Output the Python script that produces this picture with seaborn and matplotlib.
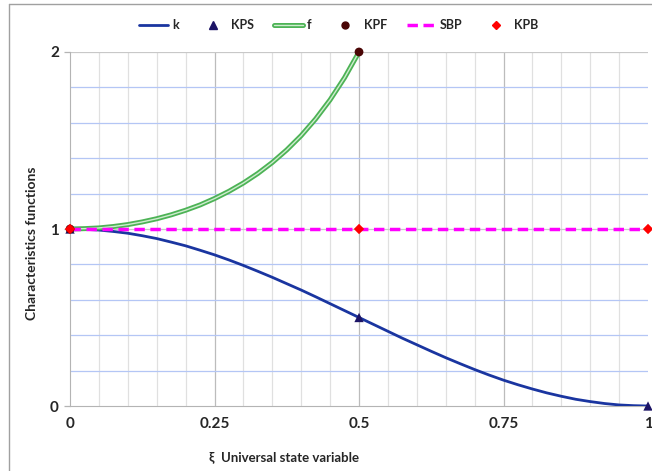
import numpy as np
import pandas as pd
import matplotlib
matplotlib.use("Agg")
import matplotlib.pyplot as plt
import matplotlib.patheffects as pe
from matplotlib.lines import Line2D
import seaborn as sns

# values
xi = [0, 0.025, 0.05, 0.075, 0.1, 0.125, 0.15, 0.175, 0.2, 0.225, 0.25,
      0.275, 0.3, 0.325, 0.35, 0.375, 0.4, 0.425, 0.45, 0.475, 0.5,
      0.525, 0.55, 0.575, 0.6, 0.625, 0.65, 0.675, 0.7, 0.725, 0.75,
      0.775, 0.8, 0.825, 0.85, 0.875, 0.9, 0.925, 0.95, 0.975, 1.0]
k_vals = [1.0, 0.998, 0.994, 0.986, 0.976, 0.962, 0.946, 0.926, 0.905, 0.880, 0.854,
          0.825, 0.794, 0.761, 0.727, 0.691, 0.655, 0.617, 0.578, 0.539, 0.5,
          0.461, 0.422, 0.383, 0.346, 0.309, 0.273, 0.239, 0.206, 0.175, 0.146,
          0.120, 0.096, 0.074, 0.055, 0.038, 0.025, 0.014, 0.006, 0.002, 0.0]
xi_f = [0, 0.025, 0.05, 0.075, 0.1, 0.125, 0.15, 0.175, 0.2, 0.225, 0.25,
        0.275, 0.3, 0.325, 0.35, 0.375, 0.4, 0.425, 0.45, 0.475, 0.5]
f_vals = [1.0, 1.002, 1.006, 1.014, 1.025, 1.040, 1.058, 1.080, 1.106, 1.136, 1.172,
          1.213, 1.26, 1.314, 1.376, 1.447, 1.528, 1.622, 1.73, 1.855, 2.0]
sbp_x = [0, 1]
sbp_y = [1, 1]
kps_x = [0, 0.5, 1]
kps_y = [1, 0.5, 0]
kpf_x = [0, 0.5]
kpf_y = [1, 2]
kpb_x = [0, 0.5, 1]
kpb_y = [1, 1, 1]
xticks = [0, 0.25, 0.5, 0.75, 1]
xtick_labels = ["0", "0.25", "0.5", "0.75", "1"]
yticks = [0, 1, 2]

sns.set_style("white")
plt.rcParams['font.family'] = ['Lato', 'DejaVu Sans']

fig = plt.figure(figsize=(6.52, 4.71), dpi=100)
ax = fig.add_axes([0.1074, 0.138, 0.8865, 0.7516])

# grid
for x in np.arange(0.05, 1.0, 0.05):
    major = abs(x / 0.25 - round(x / 0.25)) < 1e-6
    ax.axvline(x, color="#bcbcbc" if major else "#e0e0e0", lw=0.9, zorder=0)
for y in np.arange(0.2, 2.0, 0.2):
    if abs(y - 1) < 1e-6:
        continue
    ax.axhline(y, color="#b4c6f5", lw=0.9, zorder=0)
ax.axhline(1, color="#c8c8c8", lw=0.9, zorder=0)
ax.axhline(2, color="#c8c8c8", lw=0.9, zorder=0)

sns.lineplot(x=xi, y=k_vals, ax=ax, color="#1a35a0", lw=2.0, zorder=3)
sns.lineplot(x=xi_f, y=f_vals, ax=ax, color="#cfeccf", lw=1.0, zorder=3,
             path_effects=[pe.Stroke(linewidth=3.6, foreground="#4db356"), pe.Normal()])
sns.lineplot(x=sbp_x, y=sbp_y, ax=ax, color="#ff00ff", lw=2.5, zorder=4,
             dashes=False, linestyle=(0, (3, 1.6)))
sns.scatterplot(x=kps_x, y=kps_y, ax=ax, marker="^", s=45, color="#1c1466",
                edgecolor="none", zorder=5, clip_on=False)
sns.scatterplot(x=kpf_x, y=kpf_y, ax=ax, marker="o", s=40, color="#4a0505",
                edgecolor="none", zorder=5, clip_on=False)
sns.scatterplot(x=kpb_x, y=kpb_y, ax=ax, marker="D", s=28, color="#ff0000",
                edgecolor="none", zorder=6, clip_on=False)

ax.set_xlim(0, 1)
ax.set_ylim(0, 2)
ax.set_xticks(xticks)
ax.set_xticklabels(xtick_labels, fontsize=11, fontweight="bold")
ax.set_yticks(yticks)
ax.set_yticklabels([str(v) for v in yticks], fontsize=11, fontweight="bold")
ax.tick_params(axis="x", length=0, pad=8)
ax.tick_params(axis="y", length=4, width=0.9, color="#b4b4b4", pad=4, left=True)
for s in ["top", "right"]:
    ax.spines[s].set_visible(False)
ax.spines["left"].set_color("#b4b4b4")
ax.spines["bottom"].set_color("#b4b4b4")
ax.set_xlabel("ξ  Universal state variable", fontsize=9.5, fontweight="bold")
ax.set_ylabel("Characteristics functions", fontsize=10, fontweight="bold")
ax.xaxis.set_label_coords(0.370, -0.127)
ax.yaxis.set_label_coords(-0.056, 0.46)

handles = [
    Line2D([], [], color="#1a35a0", lw=2),
    Line2D([], [], color="#1c1466", marker="^", ls="none", ms=6),
    Line2D([], [], color="#cfeccf", lw=1,
           path_effects=[pe.Stroke(linewidth=3.6, foreground="#4db356"), pe.Normal()]),
    Line2D([], [], color="#4a0505", marker="o", ls="none", ms=5),
    Line2D([], [], color="#ff00ff", lw=2.5, ls=(0, (3, 1.6))),
    Line2D([], [], color="#ff0000", marker="D", ls="none", ms=4.5),
]
labels = ["k", "KPS", "f", "KPF", "SBP", "KPB"]
fig.legend(handles, labels, loc="center", bbox_to_anchor=(0.52, 0.947), ncol=6,
           frameon=False, handlelength=2.3, handletextpad=0.3, columnspacing=1.6,
           prop={"weight": "bold", "size": 9})

# outer chart frame (top and left edges only visible)
fig.add_artist(Line2D([0.0138, 1.0], [0.9915, 0.9915], color="#a0a0a0", lw=1))
fig.add_artist(Line2D([0.0138, 0.0138], [0.0, 0.9915], color="#a0a0a0", lw=1))

fig.savefig("out.png", dpi=100)
